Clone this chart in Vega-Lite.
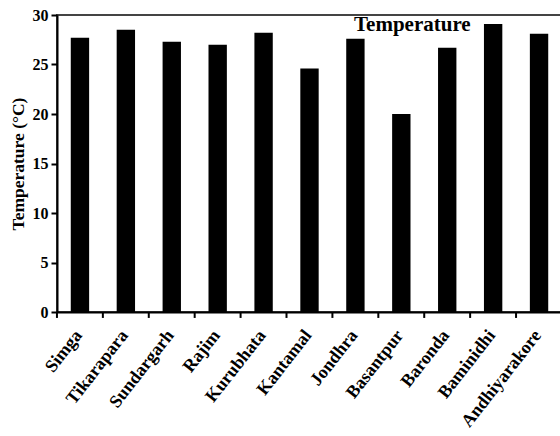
{
  "$schema": "https://vega.github.io/schema/vega-lite/v6.json",
  "width": 505,
  "height": 297,
  "autosize": {"type": "none"},
  "padding": {"left": 57, "top": 15, "right": 0, "bottom": 124},
  "background": "white",
  "config": {
    "view": {"stroke": "#444", "strokeWidth": 2},
    "font": "Liberation Serif",
    "axis": {
      "labelFont": "Liberation Serif",
      "titleFont": "Liberation Serif",
      "labelFontWeight": "bold",
      "titleFontWeight": "bold",
      "labelColor": "black",
      "titleColor": "black",
      "domainColor": "black",
      "tickColor": "black",
      "grid": false
    }
  },
  "data": {
    "values": [
      {"site": "Simga", "temp": 27.7},
      {"site": "Tikarapara", "temp": 28.5},
      {"site": "Sundargarh", "temp": 27.3},
      {"site": "Rajim", "temp": 27.0},
      {"site": "Kurubhata", "temp": 28.2},
      {"site": "Kantamal", "temp": 24.6},
      {"site": "Jondhra", "temp": 27.6},
      {"site": "Basantpur", "temp": 20.0},
      {"site": "Baronda", "temp": 26.7},
      {"site": "Baminidhi", "temp": 29.1},
      {"site": "Andhiyarakore", "temp": 28.1}
    ]
  },
  "layer": [
    {
      "mark": {"type": "bar", "color": "black", "width": {"band": 0.4}},
      "encoding": {
        "x": {
          "field": "site",
          "type": "nominal",
          "sort": null,
          "scale": {"paddingInner": 0, "paddingOuter": 0},
          "axis": {
            "title": null,
            "labelAngle": -52,
            "labelFontSize": 18,
            "ticks": false,
            "domainWidth": 2,
            "labelPadding": 20,
            "labelOffset": -1
          }
        },
        "y": {
          "field": "temp",
          "type": "quantitative",
          "scale": {"domain": [0, 30], "nice": false},
          "axis": {
            "title": "Temperature (°C)",
            "values": [0, 5, 10, 15, 20, 25, 30],
            "labelFontSize": 16,
            "titleFontSize": 17.5,
            "tickSize": 6,
            "tickWidth": 2,
            "domainWidth": 2,
            "labelPadding": 3,
            "titlePadding": 5
          }
        }
      }
    },
    {
      "mark": {"type": "rule", "color": "black", "strokeWidth": 2, "xOffset": -23, "clip": false},
      "encoding": {
        "x": {"field": "site", "type": "nominal", "sort": null},
        "y": {"datum": 0},
        "y2": {"datum": -0.6}
      }
    },
    {
      "data": {"values": [{"label": "Temperature"}]},
      "mark": {
        "type": "text",
        "font": "Liberation Serif",
        "fontWeight": "bold",
        "fontSize": 21,
        "color": "black",
        "align": "center",
        "baseline": "alphabetic",
        "dx": 11
      },
      "encoding": {
        "text": {"field": "label"},
        "x": {"datum": "Basantpur"},
        "y": {"datum": 28.4}
      }
    }
  ]
}
